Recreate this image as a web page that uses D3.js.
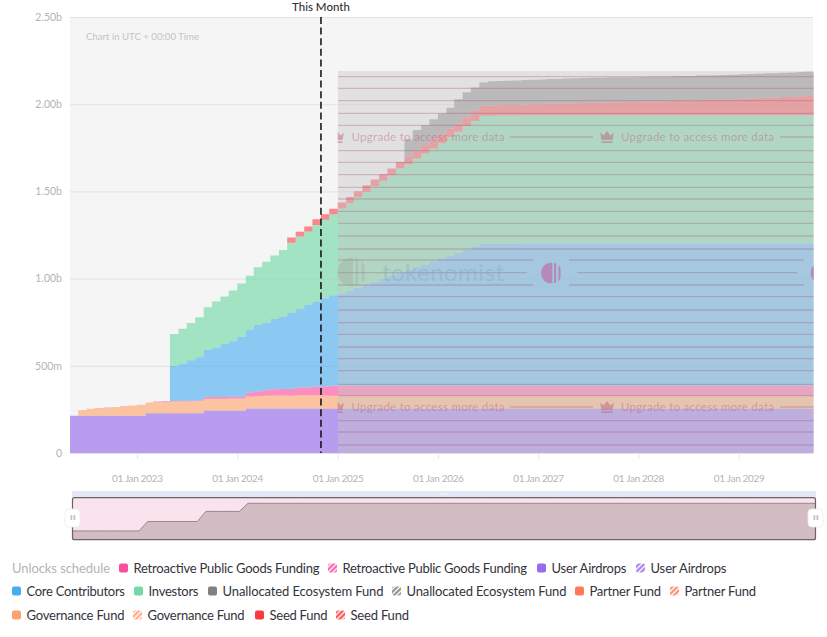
<!DOCTYPE html>
<html><head><meta charset="utf-8">
<script src="https://cdn.jsdelivr.net/npm/d3@7"></script>
<style>html,body{margin:0;padding:0;background:#fff}svg{display:block}text{font-family:Lato,"Noto Sans",sans-serif}</style>
</head><body><svg id="c" width="827" height="637"></svg>
<script>
// ---- values (billions of tokens, one per month from May 2022) ----
const firstMonth = "2022-05-01";
const userAirdrops = [
.214,.214,.214,.214,.214,.214,.214,.214,.214,.228,
.228,.228,.228,.228,.228,.228,.243,.243,.243,.243,
.243,.255,.255,.255,.255,.255,.255,.255,.255,.255,
.255,.255,.255,.255,.255,.255,.255,.255,.255,.255,
.255,.255,.255,.255,.255,.255,.255,.255,.255,.255,
.255,.255,.255,.255,.255,.255,.255,.255,.255,.255,
.255,.255,.255,.255,.255,.255,.255,.255,.255,.255,
.255,.255,.255,.255,.255,.255,.255,.255,.255,.255,
.255,.255,.255,.255,.255,.255,.255,.255,.255,.255];
const governanceFund = [
0,.033,.040,.042,.045,.050,.055,.059,.063,.061,
.064,.065,.067,.068,.069,.070,.067,.068,.068,.069,
.069,.069,.072,.073,.074,.075,.075,.076,.076,.076,
.074,.073,.073,.073,.073,.073,.073,.073,.073,.073,
.073,.073,.073,.073,.073,.073,.073,.073,.073,.073,
.073,.073,.073,.073,.073,.073,.073,.073,.073,.073,
.073,.073,.073,.073,.073,.073,.073,.073,.073,.073,
.073,.073,.073,.073,.073,.073,.073,.073,.073,.073,
.073,.073,.073,.073,.073,.073,.073,.073,.073,.073];
const retroFunding = [
0,0,0,.002,.002,0,0,0,0,0,
.004,.004,.003,.003,.003,.003,.010,.010,.010,.010,
.010,.023,.026,.032,.036,.037,.038,.044,.045,.050,
.053,.057,.057,.057,.057,.057,.057,.057,.057,.057,
.057,.057,.057,.057,.057,.057,.057,.057,.057,.057,
.057,.057,.057,.057,.057,.057,.057,.057,.057,.057,
.057,.057,.057,.057,.057,.057,.057,.057,.057,.057,
.057,.057,.057,.057,.057,.057,.057,.057,.057,.057,
.057,.057,.057,.057,.057,.057,.057,.057,.057,.057];
const coreContributors = [
0,0,0,0,0,0,0,0,0,0,
0,0,.201,.213,.232,.248,.271,.284,.304,.319,
.344,.360,.382,.386,.403,.415,.437,.451,.472,.487,
.506,.520,.530,.546,.563,.580,.597,.614,.630,.647,
.664,.681,.698,.715,.732,.748,.765,.782,.799,.815,
.815,.816,.816,.816,.817,.817,.817,.817,.817,.817,
.817,.817,.817,.817,.817,.817,.817,.817,.817,.817,
.817,.817,.817,.817,.817,.817,.817,.817,.817,.817,
.818,.818,.818,.818,.818,.818,.818,.818,.818,.818];
const investors = [
0,0,0,0,0,0,0,0,0,0,
0,0,.183,.201,.214,.229,.245,.264,.273,.291,
.306,.310,.330,.350,.365,.382,.401,.415,.422,.440,
.450,.464,.487,.501,.519,.532,.548,.562,.578,.599,
.607,.623,.635,.646,.661,.679,.692,.708,.719,.734,
.734,.734,.734,.734,.734,.734,.734,.734,.734,.734,
.734,.734,.734,.734,.734,.734,.734,.734,.734,.734,
.734,.734,.734,.734,.734,.734,.734,.734,.734,.734,
.734,.734,.734,.734,.734,.734,.734,.734,.734,.734];
const seedFund = [
0,0,0,0,0,0,0,0,0,0,
0,0,0,0,0,0,0,0,0,0,
0,0,0,0,0,0,.029,.027,.029,.032,
.031,.032,.034,.036,.034,.038,.038,.038,.038,.038,
.042,.044,.046,.048,.050,.048,.048,.050,.063,.057,
.058,.059,.060,.061,.062,.063,.065,.066,.067,.069,
.070,.071,.072,.073,.074,.075,.076,.077,.078,.079,
.080,.081,.083,.084,.085,.087,.088,.090,.092,.093,
.095,.096,.098,.100,.102,.104,.106,.108,.110,.111];
const unallocatedEcosystem = [
0,0,0,0,0,0,0,0,0,0,
0,0,0,0,0,0,0,0,0,0,
0,0,0,0,0,0,0,0,0,0,
0,0,0,0,0,0,0,0,0,0,
.101,.119,.116,.119,.119,.120,.138,.143,.130,.134,
.139,.139,.140,.140,.141,.141,.141,.142,.142,.142,
.143,.143,.143,.143,.143,.143,.142,.142,.142,.142,
.142,.141,.141,.141,.141,.141,.140,.140,.140,.140,
.140,.140,.140,.140,.139,.139,.139,.139,.139,.139];
const yTicks = [0,.5,1,1.5,2,2.5];
const yTickLabels = ["0","500m","1.00b","1.50b","2.00b","2.50b"];
const xTickDates = ["2023-01-01","2024-01-01","2025-01-01","2026-01-01","2027-01-01","2028-01-01","2029-01-01"];
const thisMonth = "2024-11-01";
const paywallStart = "2025-01-01";
const paywallTop = 2.19;

const stackOrder = [
 ["userAirdrops",userAirdrops,"#976ced"],
 ["governance",governanceFund,"#fea772"],
 ["retro",retroFunding,"#fe55a3"],
 ["core",coreContributors,"#53b0f0"],
 ["investors",investors,"#73d9a6"],
 ["seed",seedFund,"#fe4c53"],
 ["unallocated",unallocatedEcosystem,"#8c8c8c"]];

// legend: label, colour, hatched?
const legendTitle = "Unlocks schedule";
const legendLabels = [
 ["Retroactive Public Goods Funding","#f74ea0",0],["Retroactive Public Goods Funding","#f74ea0",1],
 ["User Airdrops","#976ced",0],["User Airdrops","#976ced",1],
 ["Core Contributors","#46aef0",0],["Investors","#73d9a6",0],
 ["Unallocated Ecosystem Fund","#808080",0],["Unallocated Ecosystem Fund","#808080",1],
 ["Partner Fund","#ff7a59",0],["Partner Fund","#ff7a59",1],
 ["Governance Fund","#ffa070",0],["Governance Fund","#ffa070",1],
 ["Seed Fund","#fa3b3b",0],["Seed Fund","#fa3b3b",1]];

// ---- layout ----
const L=70,R=813,T=17,B=453;
const parse=d3.utcParse("%Y-%m-%d");
const months=userAirdrops.map((_,i)=>d3.utcMonth.offset(parse(firstMonth),i));
const x=d3.scaleUtc([parse("2022-05-02"),parse("2029-09-28")],[L,R]);
const y=d3.scaleLinear([0,2.5],[B,T]);
const svg=d3.select("#c");
const defs=svg.append("defs");
defs.append("clipPath").attr("id","plot").append("rect").attr("x",L).attr("y",T).attr("width",R-L+.7).attr("height",B-T);
defs.append("clipPath").attr("id","wall").append("rect").attr("x",x(parse(paywallStart))).attr("y",T).attr("width",R-x(parse(paywallStart))+.7).attr("height",B-T);

svg.append("rect").attr("x",L).attr("y",T).attr("width",R-L).attr("height",B-T).attr("fill","#f5f5f5");
// grid
const yAxis=d3.axisLeft(y).tickValues(yTicks).tickFormat((d,i)=>yTickLabels[i]).tickSize(-(R-L)).tickPadding(8);
const gy=svg.append("g").attr("transform",`translate(${L},0)`).call(yAxis);
gy.select(".domain").remove();
gy.selectAll("line").attr("stroke","#e2e2e2");
gy.selectAll("text").attr("fill","#b4b4b4").attr("font-size",10.5).attr("font-family","Lato");
const xAxis=d3.axisBottom(x).tickValues(xTickDates.map(parse)).tickFormat(d3.utcFormat("%d %b %Y")).tickSize(6).tickPadding(16);
const gx=svg.append("g").attr("transform",`translate(0,${B})`).call(xAxis);
gx.select(".domain").remove();
gx.selectAll("line").attr("stroke","#e6e6e6");
gx.selectAll("text").attr("fill","#b4b4b4").attr("font-size",10).attr("font-family","Lato")
  .attr("textLength",51).attr("lengthAdjust","spacing");

svg.append("text").attr("x",86).attr("y",40).attr("font-size",9.6).attr("fill","#c4c4c4").text("Chart in UTC + 00:00 Time");

// stacked step areas
const table=months.map((d,i)=>{const o={date:d};stackOrder.forEach(s=>o[s[0]]=s[1][i]);return o;});
const stack=d3.stack().keys(stackOrder.map(s=>s[0]))(table);
const area=d3.area().curve(d3.curveStepAfter).x(d=>x(d.data.date)).y0(d=>y(d[0])).y1(d=>y(d[1]));
const gA=svg.append("g").attr("clip-path","url(#plot)");
gA.selectAll("path").data(stack).join("path").attr("d",area)
  .attr("fill",(d,i)=>stackOrder[i][2]).attr("fill-opacity",.65);

// paywall overlay
const px=x(parse(paywallStart));
const gW=svg.append("g").attr("clip-path","url(#wall)");
gW.append("rect").attr("x",px).attr("y",y(paywallTop)).attr("width",R-px+.7).attr("height",B-y(paywallTop))
  .attr("fill","#c8c8c8").attr("fill-opacity",.43);
const hatchRows=[76.7,88.3,100.7,113.3,125.3,137,150.7,162.3,174.7,187.3,199,211.3,223.3,236,249,260,272.7,285,296.7,310,322.7,334.3,347,358.7,370.7,384.3,395.7,407,420.7,432,445];
const hatchGaps={137:[[510,593],[780,814]],407:[[510,593],[780,814]],260:[[px,533],[569,804]],272.7:[[px,527],[577,797]],285:[[px,533],[569,804]]};
hatchRows.forEach(r=>{(hatchGaps[r]||[[px,814]]).forEach(s=>{
  gW.append("line").attr("x1",s[0]).attr("x2",s[1]).attr("y1",r).attr("y2",r)
    .attr("stroke","#a0506e").attr("stroke-opacity",.3).attr("stroke-width",1.3);});});
// upgrade notices
function crown(g,cx,cy){
  g.append("path").attr("fill","#b8506f").attr("fill-opacity",.42)
   .attr("d",`M${cx-7} ${cy-4.5}L${cx-3.5} ${cy-1.5}L${cx} ${cy-6}L${cx+3.5} ${cy-1.5}L${cx+7} ${cy-4.5}L${cx+5.5} ${cy+3}H${cx-5.5}Z M${cx-5.5} ${cy+4.3}H${cx+5.5}V${cy+6}H${cx-5.5}Z`);
}
[137,407].forEach(r=>{
  [[337,351.5],[607,621]].forEach(p=>{
    crown(gW,p[0],r);
    gW.append("text").attr("x",p[1]).attr("y",r+4).attr("font-size",11.5).attr("font-family","Inter")
      .attr("textLength",153).attr("lengthAdjust","spacing")
      .attr("fill","#c0506f").attr("fill-opacity",.42).text("Upgrade to access more data");
  });
});
// watermark logos
function logo(id,cx,cy,r,col,op){
  const c=defs.append("clipPath").attr("id",id);c.append("circle").attr("cx",cx).attr("cy",cy).attr("r",r);
  const g=gW.append("g").attr("clip-path",`url(#${id})`).attr("fill",col).attr("fill-opacity",op);
  g.append("rect").attr("x",cx-r).attr("y",cy-r).attr("width",r*1.08).attr("height",2*r);
  g.append("rect").attr("x",cx+r*.24).attr("y",cy-r).attr("width",r*.2).attr("height",2*r);
  g.append("rect").attr("x",cx+r*.66).attr("y",cy-r).attr("width",r*.2).attr("height",2*r);
}
logo("lg1",352,272,14.5,"#a09a90",.3);
logo("lg2",551.5,273,10.5,"#bc72a8",.72);
logo("lg3",821,273,10.5,"#bc72a8",.72);
gW.append("text").attr("x",382).attr("y",281).attr("font-size",24).attr("font-family","Lato")
  .attr("textLength",122).attr("lengthAdjust","spacing").attr("fill","#8ba6c0").attr("fill-opacity",.42).text("tokenomist");

// this month marker
const tm=x(parse(thisMonth));
svg.append("line").attr("x1",tm).attr("x2",tm).attr("y1",T).attr("y2",B)
  .attr("stroke","#111").attr("stroke-width",1.8).attr("stroke-dasharray","7 3.6").attr("stroke-opacity",.85);
svg.append("text").attr("x",tm).attr("y",10.5).attr("text-anchor","middle").attr("font-size",11.5).attr("font-weight",500)
  .attr("fill","#333").text("This Month");

// slider
const sx=d3.scaleUtc(x.domain(),[72,816]);
const sy=d3.scaleLinear([.201,.2633],[539.7,497.7]);
svg.append("rect").attr("x",72).attr("y",491).attr("width",744).attr("height",7).attr("fill","#e3e8f5");
svg.append("g").selectAll("circle").data([441.5,444,446.5]).join("circle").attr("cx",d=>d).attr("cy",494).attr("r",.8).attr("fill","#fff");
svg.append("rect").attr("x",72.5).attr("y",497.7).attr("width",743).attr("height",42).attr("rx",2).attr("fill","#f9e3ec");
const sArea=d3.area().x((d,i)=>sx(months[i])).y0(539.7).y1(d=>sy(d));
const sLine=d3.line().x((d,i)=>sx(months[i])).y(d=>sy(d));
defs.append("clipPath").attr("id","sl").append("rect").attr("x",72.5).attr("y",497.7).attr("width",743).attr("height",42);
const gS=svg.append("g").attr("clip-path","url(#sl)");
gS.append("path").attr("d",sArea(userAirdrops)).attr("fill","#d3bcc3");
gS.append("path").attr("d",sLine(userAirdrops)).attr("fill","none").attr("stroke","#9a868c").attr("stroke-width",1);
svg.append("rect").attr("x",72.5).attr("y",497.7).attr("width",743).attr("height",42).attr("rx",2).attr("fill","none").attr("stroke","#6f6266").attr("stroke-width",1.2);
[72.5,815.5].forEach(h=>{
  svg.append("rect").attr("x",h-7.5).attr("y",509).attr("width",15).attr("height",18).attr("rx",4).attr("fill","#fff").attr("stroke","#eee").attr("stroke-width",.8);
  [-2,1].forEach(o=>svg.append("rect").attr("x",h+o).attr("y",515).attr("width",1.8).attr("height",5).attr("fill","#c4c4c4"));
});

// legend
const hatchIds={};
legendLabels.filter(d=>d[2]).forEach((d,i)=>{
  const id="h"+i;hatchIds[d[1]]=id;
  const p=defs.append("pattern").attr("id",id).attr("width",3.6).attr("height",3.6).attr("patternUnits","userSpaceOnUse").attr("patternTransform","rotate(45)");
  p.append("rect").attr("width",3.6).attr("height",3.6).attr("fill","#fff");
  p.append("rect").attr("width",2.3).attr("height",3.6).attr("fill",d[1]).attr("fill-opacity",.85);
});
// swatch x, text width for each legend entry
const legendPlace=[[119,568,186],[328,568,184.5],[537,568,75],[636,568,76],
 [12,591,98.5],[134,591,50],[208,591,161],[392,591,160],[575,591,71.5],[670,591,71.5],
 [12,615,98],[133,615,97],[255,615,58],[336,615,58.5]];
svg.append("text").attr("x",12).attr("y",572.5).attr("font-size",13).attr("textLength",98).attr("lengthAdjust","spacing").attr("fill","#b4b4b4").text(legendTitle);
legendLabels.forEach((d,i)=>{
  const p=legendPlace[i];
  svg.append("rect").attr("x",p[0]).attr("y",p[1]-4.5).attr("width",9).attr("height",9).attr("rx",2)
    .attr("fill",d[2]?`url(#${hatchIds[d[1]]})`:d[1]);
  svg.append("text").attr("x",p[0]+14.5).attr("y",p[1]+4.5).attr("font-size",13).attr("textLength",p[2]).attr("lengthAdjust","spacing")
    .attr("fill","#33333a").text(d[0]);
});
</script></body></html>
